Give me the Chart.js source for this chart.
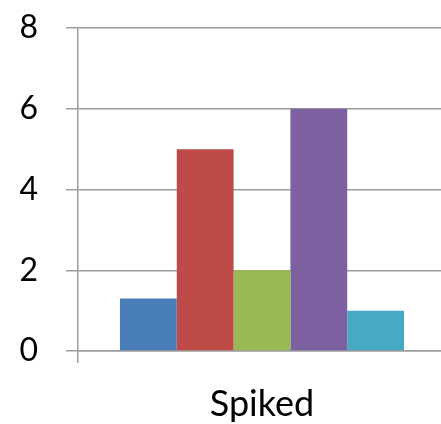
<!DOCTYPE html>
<html>
<head>
<meta charset="utf-8">
<script src="https://cdn.jsdelivr.net/npm/chart.js@4/dist/chart.umd.min.js"></script>
<style>
  html, body { margin: 0; padding: 0; background: #fff; overflow: hidden; }
  #wrap { width: 441px; height: 424px; overflow: hidden; }
  canvas { display: block; }
</style>
</head>
<body>
<div id="wrap"><canvas id="c" width="446" height="424"></canvas></div>
<script>
// Category and series values
const categories = ['Spiked'];
const seriesNames = ['A', 'B', 'C', 'D', 'E'];
const seriesValues = [1.3, 5, 2, 6, 1];
const seriesColors = ['#4a7ebb', '#be4b48', '#98b954', '#7d60a0', '#46aac5'];
const yTicks = [0, 2, 4, 6, 8];

const gridGrey = '#9c9c9c';
const fontFamily = 'Lato, "Open Sans", sans-serif';

const datasets = seriesNames.map((name, i) => ({
  label: name,
  data: [seriesValues[i]],
  backgroundColor: seriesColors[i],
  borderWidth: 0,
  categoryPercentage: 0.772,
  barPercentage: 1.0
}));

new Chart(document.getElementById('c'), {
  type: 'bar',
  data: { labels: categories, datasets },
  options: {
    responsive: false,
    animation: false,
    layout: { padding: { top: 28, left: 0, right: 0, bottom: 0 } },
    plugins: { legend: { display: false }, tooltip: { enabled: false } },
    scales: {
      x: {
        grid: {
          offset: true,
          drawOnChartArea: false,
          drawTicks: true,
          tickLength: 12,
          color: gridGrey,
          lineWidth: 1.5
        },
        border: { display: true, color: gridGrey, width: 1.5 },
        ticks: {
          color: '#000',
          font: { family: fontFamily, size: 36 },
          padding: 20
        },
        afterFit: s => { s.height = 73; }
      },
      y: {
        min: 0,
        max: 8,
        afterBuildTicks: s => { s.ticks = yTicks.map(v => ({ value: v })); },
        grid: {
          color: gridGrey,
          lineWidth: 1.5,
          drawTicks: true,
          tickLength: 12
        },
        border: { display: true, color: gridGrey, width: 1.5 },
        ticks: {
          color: '#000',
          font: { family: fontFamily, size: 32 },
          padding: 28
        },
        afterFit: s => { s.width = 78; s.paddingTop = 0; s.paddingBottom = 0; }
      }
    }
  }
});
</script>
</body>
</html>
